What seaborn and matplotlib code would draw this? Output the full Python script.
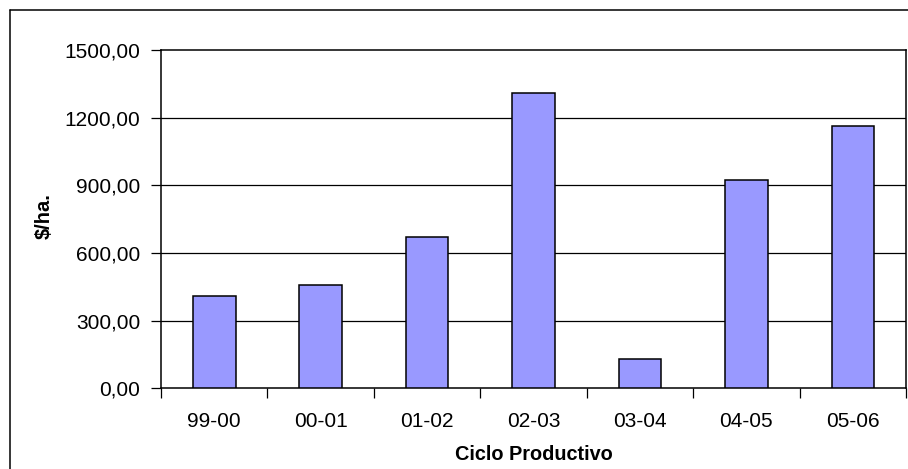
import matplotlib
matplotlib.use("Agg")
import matplotlib.pyplot as plt
from matplotlib.lines import Line2D
from matplotlib.ticker import FixedLocator, FuncFormatter
import seaborn as sns
import pandas as pd

# Production cycles and margin per hectare
ciclos = ["99-00", "00-01", "01-02", "02-03", "03-04", "04-05", "05-06"]
valores = [410, 457, 671, 1311, 130, 922, 1165]
y_ticks = [0, 300, 600, 900, 1200, 1500]

df = pd.DataFrame({"Ciclo Productivo": ciclos, "$/ha.": valores})

sns.set_theme(style="white")
plt.rcParams["font.family"] = ["Liberation Sans", "DejaVu Sans"]

W, H = 908, 469
fig = plt.figure(figsize=(W / 100, H / 100), dpi=100)
fig.patch.set_facecolor("white")

# plot area in pixel units
left, right, top, bottom = 161, 906, 50, 388.3
ax = fig.add_axes([left / W, 1 - bottom / H, (right - left) / W, (bottom - top) / H])

sns.barplot(data=df, x="Ciclo Productivo", y="$/ha.", color="#9999FF",
            saturation=1, edgecolor="black", linewidth=1.1, width=0.4, ax=ax,
            zorder=3)

ax.set_ylim(0, 1500)
ax.set_xlim(-0.5, len(ciclos) - 0.5)
ax.set_yticks(y_ticks)
ax.yaxis.set_major_formatter(FuncFormatter(lambda v, _: f"{v:.2f}".replace(".", ",")))

# horizontal gridlines
for v in y_ticks[1:-1]:
    ax.axhline(v, color="black", lw=0.9, zorder=1)

# category separators as tick marks, labels at category centres
ax.xaxis.set_minor_locator(FixedLocator([i - 0.5 for i in range(len(ciclos) + 1)]))
ax.tick_params(axis="x", which="major", length=0, pad=17, labelsize=15, colors="black")
ax.tick_params(axis="x", which="minor", bottom=True, length=7, width=0.9, color="black", direction="out")
ax.tick_params(axis="y", which="major", left=True, length=7, width=0.9, pad=8,
               labelsize=15, colors="black", direction="out")

for s in ax.spines.values():
    s.set_visible(True)
    s.set_color("black")
    s.set_linewidth(1.1)

ax.set_xlabel("Ciclo Productivo", fontsize=14.3, fontweight="bold", color="black")
ax.xaxis.set_label_coords(0.5, (bottom - 460) / (bottom - top))
ax.xaxis.label.set_va("baseline")
ax.set_ylabel("$/ha.", fontsize=14.5, fontweight="bold", color="black")
ax.yaxis.set_label_coords((44 - left) / (right - left), (bottom - 216.5) / (bottom - top))
ax.yaxis.label.set_va("center")

# chart area border
fig.add_artist(Line2D([10 / W, 10 / W], [1 - 10 / H, -0.1], transform=fig.transFigure,
                      color="black", lw=1.1))
fig.add_artist(Line2D([10 / W, 1.1], [1 - 10 / H, 1 - 10 / H], transform=fig.transFigure,
                      color="black", lw=1.1))

fig.savefig("out.png", dpi=100, facecolor="white")
